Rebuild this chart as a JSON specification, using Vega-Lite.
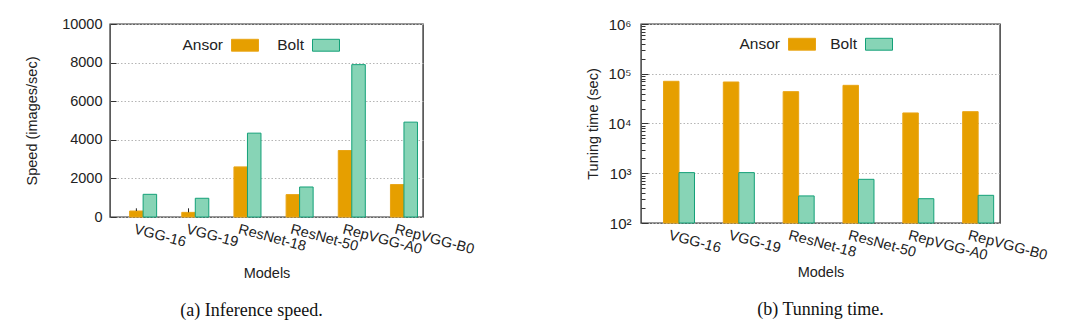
{
  "$schema": "https://vega.github.io/schema/vega-lite/v6.json",
  "background": "white",
  "padding": {"left": 23, "top": 15, "right": 0, "bottom": 0},
  "spacing": 109,
  "config": {
    "font": "Liberation Sans",
    "view": {"stroke": "#333333", "strokeWidth": 1.4},
    "axis": {
      "labelFont": "Liberation Sans",
      "labelFontSize": 14.5,
      "labelColor": "#222222",
      "labelOverlap": false,
      "titleFont": "Liberation Sans",
      "titleFontSize": 14.5,
      "titleFontWeight": "normal",
      "titleColor": "#222222",
      "domain": false,
      "gridColor": "#b5b5b5",
      "gridDash": [1.5, 2],
      "gridWidth": 1,
      "tickColor": "#333333"
    },
    "legend": {
      "orient": "none",
      "direction": "horizontal",
      "symbolType": "M-1,-0.44H1V0.44H-1Z",
      "symbolSize": 729,
      "symbolStrokeWidth": 1,
      "labelAlign": "right",
      "labelOffset": -36,
      "labelFont": "Liberation Sans",
      "labelFontSize": 15.5,
      "labelColor": "#222222",
      "columnPadding": 16
    },
    "title": {"font": "Liberation Serif", "fontSize": 18, "fontWeight": "normal", "color": "#111111"}
  },
  "datasets": {
    "speed": [
      {"model": "VGG-16", "system": "Ansor", "speed": 310, "errHigh": 450},
      {"model": "VGG-16", "system": "Bolt", "speed": 1175},
      {"model": "VGG-19", "system": "Ansor", "speed": 240, "errHigh": 450},
      {"model": "VGG-19", "system": "Bolt", "speed": 970},
      {"model": "ResNet-18", "system": "Ansor", "speed": 2595},
      {"model": "ResNet-18", "system": "Bolt", "speed": 4345},
      {"model": "ResNet-50", "system": "Ansor", "speed": 1160},
      {"model": "ResNet-50", "system": "Bolt", "speed": 1555},
      {"model": "RepVGG-A0", "system": "Ansor", "speed": 3445},
      {"model": "RepVGG-A0", "system": "Bolt", "speed": 7895},
      {"model": "RepVGG-B0", "system": "Ansor", "speed": 1680},
      {"model": "RepVGG-B0", "system": "Bolt", "speed": 4915}
    ],
    "tuning": [
      {"model": "VGG-16", "system": "Ansor", "seconds": 70500},
      {"model": "VGG-16", "system": "Bolt", "seconds": 1030},
      {"model": "VGG-19", "system": "Ansor", "seconds": 68300},
      {"model": "VGG-19", "system": "Bolt", "seconds": 1030},
      {"model": "ResNet-18", "system": "Ansor", "seconds": 43700},
      {"model": "ResNet-18", "system": "Bolt", "seconds": 350},
      {"model": "ResNet-50", "system": "Ansor", "seconds": 58500},
      {"model": "ResNet-50", "system": "Bolt", "seconds": 755},
      {"model": "RepVGG-A0", "system": "Ansor", "seconds": 16300},
      {"model": "RepVGG-A0", "system": "Bolt", "seconds": 308},
      {"model": "RepVGG-B0", "system": "Ansor", "seconds": 17300},
      {"model": "RepVGG-B0", "system": "Bolt", "seconds": 360}
    ]
  },
  "resolve": {
    "scale": {"fill": "independent", "stroke": "independent", "x": "independent", "y": "independent", "xOffset": "independent"},
    "legend": {"fill": "independent", "stroke": "independent"}
  },
  "hconcat": [
    {
      "width": 313,
      "height": 193,
      "title": {"text": "(a) Inference speed.", "orient": "bottom", "anchor": "middle", "frame": "group", "offset": 22, "dx": -15},
      "data": {"name": "speed"},
      "encoding": {
        "x": {
          "field": "model", "type": "nominal",
          "scale": {"domain": ["VGG-16", "VGG-19", "ResNet-18", "ResNet-50", "RepVGG-A0", "RepVGG-B0"], "paddingInner": 0, "paddingOuter": 0},
          "axis": {"title": "Models", "labelAngle": 15, "labelAlign": "left", "labelBaseline": "top", "labelPadding": 5, "ticks": false, "titlePadding": 10}
        },
        "xOffset": {
          "field": "system", "type": "nominal",
          "scale": {"domain": ["Ansor", "Bolt"], "paddingInner": 0, "paddingOuter": 0.93, "align": 0.78}
        },
        "y": {
          "field": "speed", "type": "quantitative",
          "scale": {"domain": [0, 10000], "nice": false},
          "axis": {"title": "Speed (images/sec)", "values": [0, 2000, 4000, 6000, 8000, 10000], "format": "d", "tickSize": -6, "labelPadding": 14, "titlePadding": 22}
        }
      },
      "layer": [
        {
          "mark": {"type": "bar", "strokeWidth": 1},
          "encoding": {
            "fill": {
              "field": "system", "type": "nominal",
              "scale": {"domain": ["Ansor", "Bolt"], "range": ["#e69f00", "#87d4b6"]},
              "legend": {"title": null, "legendX": 121, "legendY": 7}
            },
            "stroke": {
              "field": "system", "type": "nominal",
              "scale": {"domain": ["Ansor", "Bolt"], "range": ["#e9a516", "#13a078"]},
              "legend": {"title": null, "legendX": 121, "legendY": 7}
            }
          }
        },
        {
          "mark": {"type": "rule", "color": "#222222", "strokeWidth": 1},
          "transform": [{"filter": "isValid(datum.errHigh)"}],
          "encoding": {
            "y2": {"field": "errHigh"}
          }
        }
      ]
    },
    {
      "width": 359,
      "height": 199,
      "title": {"text": "(b) Tunning time.", "orient": "bottom", "anchor": "middle", "frame": "group", "offset": 22, "dx": 0},
      "data": {"name": "tuning"},
      "mark": {"type": "bar", "strokeWidth": 1},
      "encoding": {
        "x": {
          "field": "model", "type": "nominal",
          "scale": {"domain": ["VGG-16", "VGG-19", "ResNet-18", "ResNet-50", "RepVGG-A0", "RepVGG-B0"], "paddingInner": 0, "paddingOuter": 0},
          "axis": {"title": "Models", "labelAngle": 15, "labelAlign": "left", "labelBaseline": "top", "labelPadding": 5, "ticks": false, "titlePadding": 3}
        },
        "xOffset": {
          "field": "system", "type": "nominal",
          "scale": {"domain": ["Ansor", "Bolt"], "paddingInner": 0, "paddingOuter": 0.93, "align": 0.78}
        },
        "y": {
          "field": "seconds", "type": "quantitative",
          "scale": {"type": "log", "domain": [100, 1000000], "nice": false},
          "axis": {
            "title": "Tuning time (sec)",
            "values": [100, 200, 300, 400, 500, 600, 700, 800, 900, 1000, 2000, 3000, 4000, 5000, 6000, 7000, 8000, 9000, 10000, 20000, 30000, 40000, 50000, 60000, 70000, 80000, 90000, 100000, 200000, 300000, 400000, 500000, 600000, 700000, 800000, 900000, 1000000],
            "labelExpr": "abs(log(datum.value)/LN10 - round(log(datum.value)/LN10)) < 0.001 ? '10' + ['⁰','¹','²','³','⁴','⁵','⁶'][round(log(datum.value)/LN10)] : ''",
            "labelFontSize": 15,
            "tickSize": {"condition": {"test": "abs(log(datum.value)/LN10 - round(log(datum.value)/LN10)) < 0.001", "value": -7}, "value": -4},
            "gridOpacity": {"condition": {"test": "abs(log(datum.value)/LN10 - round(log(datum.value)/LN10)) < 0.001", "value": 1}, "value": 0},
            "labelPadding": 17,
            "titlePadding": 7
          }
        },
        "y2": {"datum": 100},
        "fill": {
          "field": "system", "type": "nominal",
          "scale": {"domain": ["Ansor", "Bolt"], "range": ["#e69f00", "#87d4b6"]},
          "legend": {"title": null, "legendX": 147, "legendY": 6, "columnPadding": 12}
        },
        "stroke": {
          "field": "system", "type": "nominal",
          "scale": {"domain": ["Ansor", "Bolt"], "range": ["#e9a516", "#13a078"]},
          "legend": {"title": null, "legendX": 147, "legendY": 6, "columnPadding": 12}
        }
      }
    }
  ]
}
